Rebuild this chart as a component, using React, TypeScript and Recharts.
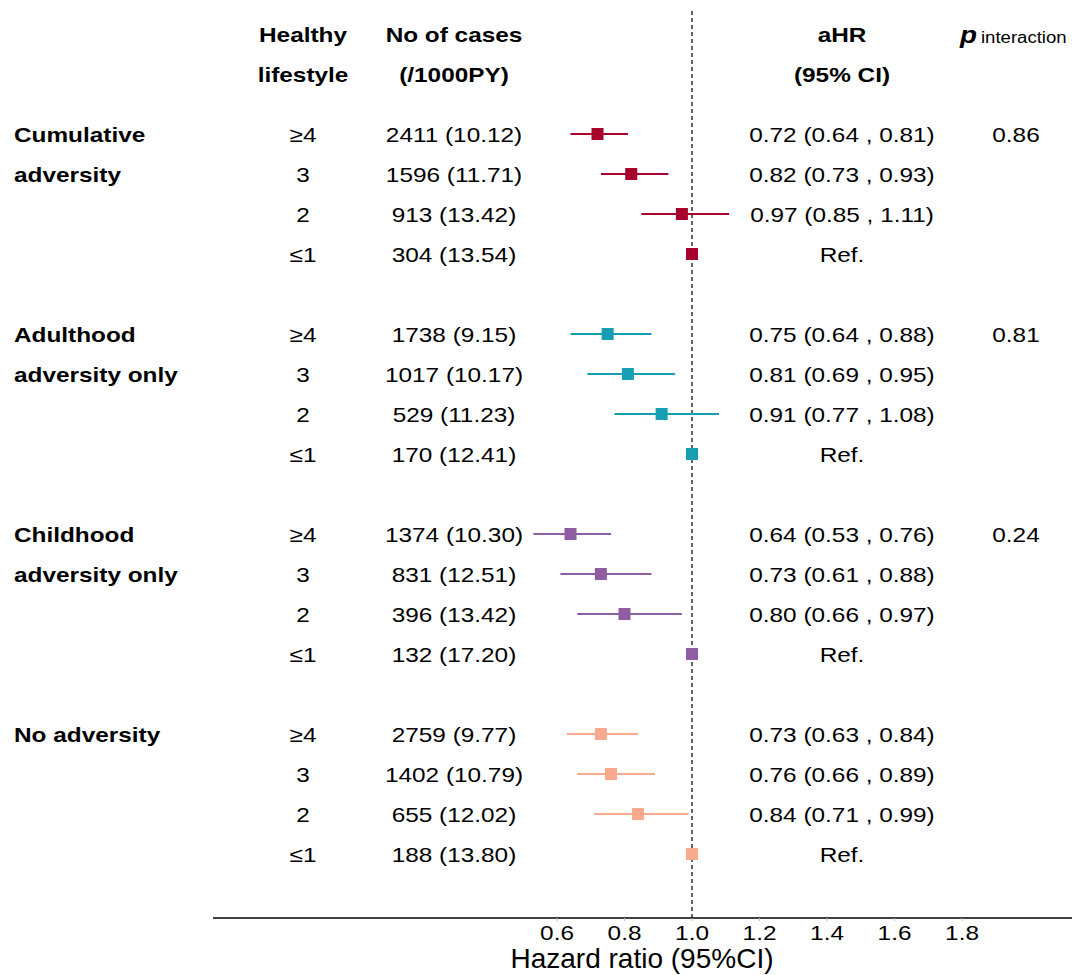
import React from 'react'
import {
  ScatterChart,
  Scatter,
  XAxis,
  YAxis,
  ErrorBar,
  ReferenceLine,
} from 'recharts'

const FONT = 'Arial, "Liberation Sans", sans-serif'
const SX = 1.16 // the source text is a bit wider than plain Arial

const GROUP_LABELS = [
  ['Cumulative', 'adversity'],
  ['Adulthood', 'adversity only'],
  ['Childhood', 'adversity only'],
  ['No adversity'],
]
const GROUP_COLORS = ['#a8002d', '#179eb3', '#8f5da1', '#f9aa8c']
const LIFESTYLE = ['≥4', '3', '2', '≤1']

const CASES = [
  [2411, 1596, 913, 304],
  [1738, 1017, 529, 170],
  [1374, 831, 396, 132],
  [2759, 1402, 655, 188],
]
const RATES = [
  ['10.12', '11.71', '13.42', '13.54'],
  ['9.15', '10.17', '11.23', '12.41'],
  ['10.30', '12.51', '13.42', '17.20'],
  ['9.77', '10.79', '12.02', '13.80'],
]
const HR = [
  [0.72, 0.82, 0.97, 1],
  [0.75, 0.81, 0.91, 1],
  [0.64, 0.73, 0.8, 1],
  [0.73, 0.76, 0.84, 1],
]
const LOWER = [
  [0.64, 0.73, 0.85, 1],
  [0.64, 0.69, 0.77, 1],
  [0.53, 0.61, 0.66, 1],
  [0.63, 0.66, 0.71, 1],
]
const UPPER = [
  [0.81, 0.93, 1.11, 1],
  [0.88, 0.95, 1.08, 1],
  [0.76, 0.88, 0.97, 1],
  [0.84, 0.89, 0.99, 1],
]
const P_INTERACTION = ['0.86', '0.81', '0.24', '']
const X_TICKS = [0.6, 0.8, 1.0, 1.2, 1.4, 1.6, 1.8]

const ROWS_PER_GROUP = 5
const HEADER_ROWS = [-2.5, -1.5]

type Row = {
  row: number
  group: number
  level: number
  hr: number
  err: [number, number]
}

const seriesData: Row[][] = HR.map((hrs, g) =>
  hrs.map((hr, j) => ({
    row: g * ROWS_PER_GROUP + j,
    group: g,
    level: j,
    hr,
    err: [+(hr - LOWER[g][j]).toFixed(3), +(UPPER[g][j] - hr).toFixed(3)] as [number, number],
  }))
)

const allRows = seriesData.flat()
const rowTicks = [...HEADER_ROWS, ...allRows.map((r) => r.row)]

const fmt = (v: number) => v.toFixed(2)

// column positions (px from the left edge of the chart)
const COL_GROUP = 14
const COL_LIFE = 303
const COL_CASES = 454
const COL_HR = 842
const COL_P = 1016
const COL_P_HEAD = 960

function T(props: {
  x: number
  y: number
  anchor?: 'start' | 'middle' | 'end'
  bold?: boolean
  size?: number
  italic?: boolean
  baseline?: 'central' | 'alphabetic'
  children: React.ReactNode
}) {
  const { x, y, anchor = 'middle', bold, size = 21, italic, baseline = 'central', children } = props
  return (
    <text
      transform={`translate(${x},${y}) scale(${SX},1)`}
      x={0}
      y={0}
      textAnchor={anchor}
      dominantBaseline={baseline}
      fontFamily={FONT}
      fontSize={size}
      fontWeight={bold ? 'bold' : 'normal'}
      fontStyle={italic ? 'italic' : 'normal'}
      fill="#000"
    >
      {children}
    </text>
  )
}

function RowTick(props: any) {
  const { payload } = props
  const y = props.y + 1
  const v = payload.value as number
  if (v === HEADER_ROWS[0] || v === HEADER_ROWS[1]) {
    const first = v === HEADER_ROWS[0]
    return (
      <g>
        <T x={COL_LIFE} y={y} bold>{first ? 'Healthy' : 'lifestyle'}</T>
        <T x={COL_CASES} y={y} bold>{first ? 'No of cases' : '(/1000PY)'}</T>
        <T x={COL_HR} y={y} bold>{first ? 'aHR' : '(95% CI)'}</T>
        {first && (
          <>
            <T x={COL_P_HEAD} y={y + 8} anchor="start" bold italic size={24} baseline="alphabetic">p</T>
            <T x={COL_P_HEAD + 21} y={y + 8} anchor="start" size={16} baseline="alphabetic">interaction</T>
          </>
        )}
      </g>
    )
  }
  const r = allRows.find((d) => d.row === v)
  if (!r) return null
  const { group: g, level: j } = r
  const label = GROUP_LABELS[g][j]
  const isRef = j === LIFESTYLE.length - 1
  return (
    <g>
      {label && <T x={COL_GROUP} y={y} anchor="start" bold>{label}</T>}
      <T x={COL_LIFE} y={y}>{LIFESTYLE[j]}</T>
      <T x={COL_CASES} y={y}>{`${CASES[g][j]} (${RATES[g][j]})`}</T>
      <T x={COL_HR} y={y}>
        {isRef ? 'Ref.' : `${fmt(HR[g][j])} (${fmt(LOWER[g][j])} , ${fmt(UPPER[g][j])})`}
      </T>
      {j === 0 && P_INTERACTION[g] && <T x={COL_P} y={y}>{P_INTERACTION[g]}</T>}
    </g>
  )
}

function HrTick(props: any) {
  const { x, y, payload } = props
  return <T x={x} y={y + 10}>{payload.value.toFixed(1)}</T>
}

function SquareShape(props: any) {
  const { cx, cy, fill } = props
  if (cx == null || cy == null) return null
  const s = 12
  return <rect x={cx - s / 2} y={cy - s / 2} width={s} height={s} fill={fill} />
}

// title sits a little left of the plot centre, as in the source
function AxisTitle() {
  return (
    <text x={642} y={968} textAnchor="middle" fontFamily={FONT} fontSize={28} fill="#000">
      Hazard ratio (95%CI)
    </text>
  )
}

export default function App() {
  return (
    <div style={{ position: 'absolute', left: 0, top: 0, width: 1081, height: 975, background: '#fff' }}>
      <ScatterChart width={1081} height={975} margin={{ top: 8, right: 9, bottom: 0, left: 0 }}>
        <XAxis
          type="number"
          dataKey="hr"
          domain={[-0.4193, 2.1259]}
          ticks={X_TICKS}
          allowDataOverflow
          height={57}
          axisLine={{ stroke: '#000', strokeWidth: 1.3 }}
          tickLine={{ stroke: '#bbb' }}
          tickSize={3}
          tick={<HrTick />}
          label={<AxisTitle />}
        />
        <YAxis
          type="number"
          dataKey="row"
          domain={[-3.15, 19.6]}
          reversed
          ticks={rowTicks}
          interval={0}
          width={213}
          axisLine={false}
          tickLine={false}
          tick={<RowTick />}
          allowDataOverflow
        />
        <ReferenceLine x={1} stroke="#000" strokeWidth={1.2} strokeDasharray="4 3" />
        {seriesData.map((data, g) => (
          <Scatter
            key={g}
            data={data}
            fill={GROUP_COLORS[g]}
            shape={<SquareShape />}
            isAnimationActive={false}
          >
            <ErrorBar
              dataKey="err"
              direction="x"
              width={0}
              stroke={GROUP_COLORS[g]}
              strokeWidth={2}
              isAnimationActive={false}
            />
          </Scatter>
        ))}
      </ScatterChart>
    </div>
  )
}
